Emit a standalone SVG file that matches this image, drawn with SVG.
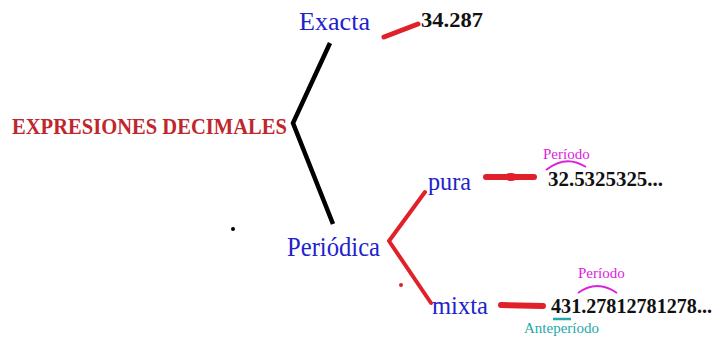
<svg xmlns="http://www.w3.org/2000/svg" width="717" height="340" viewBox="0 0 717 340">
  <style>
    .blue { font-family: "Liberation Serif", serif; fill: #2222cc; }
    .num { font-family: "Liberation Serif", serif; font-weight: bold; fill: #111; }
    .per { font-family: "Liberation Serif", serif; fill: #dd22dd; font-size: 15px; }
    .ante { font-family: "Liberation Serif", serif; fill: #22a8a8; font-size: 15px; }
    .red { stroke: #e0212a; fill: none; stroke-linecap: round; stroke-linejoin: round; }
    .blk { stroke: #000; fill: none; stroke-width: 4.5; stroke-linejoin: miter; }
  </style>
  <rect width="717" height="340" fill="#fff"/>

  <g id="connectors">
    <polyline class="blk" points="330,43 293,123 333,224"/>
    <line class="red" x1="384" y1="37" x2="418" y2="24" stroke-width="5"/>
    <polyline class="red" points="425,192 389,241 431,303" stroke-width="4"/>
    <line class="red" x1="486" y1="177" x2="534" y2="177" stroke-width="6"/>
    <ellipse cx="511" cy="177" rx="7" ry="4" fill="#e0212a"/>
    <line class="red" x1="501" y1="305" x2="543" y2="306" stroke-width="6"/>
    <circle cx="401" cy="285" r="2" fill="#e0212a"/>
    <circle cx="233" cy="229" r="2" fill="#000"/>
  </g>

  <g id="root">
    <text x="12" y="134" font-family="Liberation Serif, serif" font-weight="bold" font-size="23" fill="#c0262c" textLength="275" lengthAdjust="spacingAndGlyphs">EXPRESIONES DECIMALES</text>
  </g>

  <g id="exacta">
    <text class="blue" x="299" y="30" font-size="26" textLength="71" lengthAdjust="spacingAndGlyphs">Exacta</text>
  </g>
  <g id="exacta-ejemplo">
    <text class="num" x="421" y="27" font-size="21" textLength="62" lengthAdjust="spacingAndGlyphs">34.287</text>
  </g>

  <g id="periodica">
    <text class="blue" x="287" y="256" font-size="27" textLength="93" lengthAdjust="spacingAndGlyphs">Periódica</text>
  </g>

  <g id="pura">
    <text class="blue" x="428" y="190" font-size="26" textLength="43" lengthAdjust="spacingAndGlyphs">pura</text>
  </g>
  <g id="pura-ejemplo">
    <text class="per" x="543" y="159">Período</text>
    <path d="M546,170 Q566,154 586,167" stroke="#dd22dd" stroke-width="2" fill="none"/>
    <text class="num" x="548" y="186" font-size="21" textLength="115" lengthAdjust="spacingAndGlyphs">32.5325325...</text>
  </g>

  <g id="mixta">
    <text class="blue" x="432" y="314" font-size="26" textLength="56" lengthAdjust="spacingAndGlyphs">mixta</text>
  </g>
  <g id="mixta-ejemplo">
    <text class="per" x="578" y="278">Período</text>
    <path d="M578,293 Q597,279 617,293" stroke="#dd22dd" stroke-width="2" fill="none"/>
    <text class="num" x="551" y="313" font-size="20" textLength="161" lengthAdjust="spacingAndGlyphs">431.27812781278...</text>
    <line x1="553" y1="319" x2="571" y2="319" stroke="#22a8a8" stroke-width="2.5"/>
    <text class="ante" x="524" y="333">Anteperíodo</text>
  </g>
</svg>
